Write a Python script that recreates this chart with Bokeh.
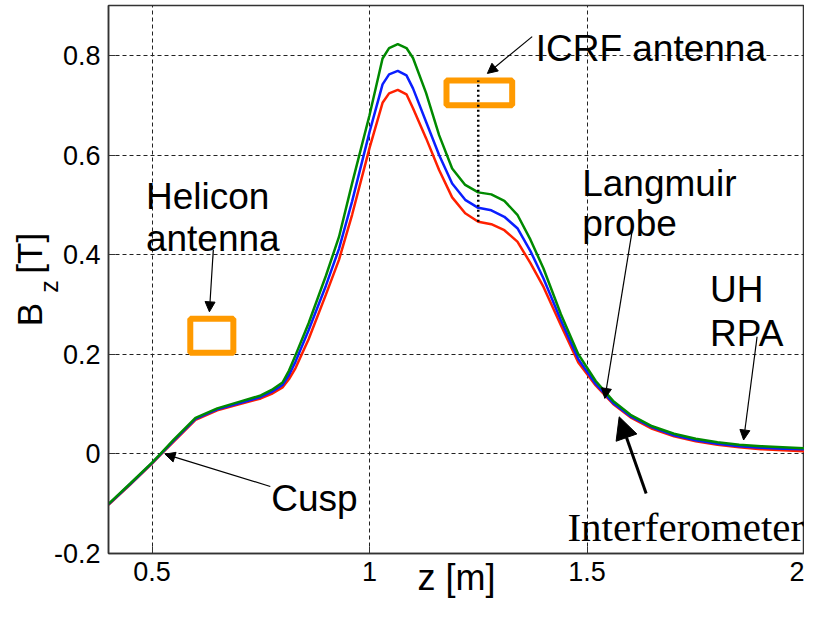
from bokeh.plotting import figure
from bokeh.models import Range1d, FixedTicker, Label, Arrow, NormalHead, Title
from bokeh.embed import file_html
from bokeh.resources import INLINE

# ---------------- data ----------------
z_m = [0.40, 0.45, 0.50, 0.52, 0.55, 0.60, 0.65, 0.70, 0.75, 0.775, 0.80, 0.815, 0.83, 0.86,
       0.90, 0.93, 0.96, 1.00, 1.03, 1.045, 1.065, 1.085, 1.10, 1.13, 1.16, 1.19, 1.22, 1.25,
       1.28, 1.31, 1.34, 1.37, 1.40, 1.44, 1.48, 1.52, 1.56, 1.60, 1.65, 1.70,
       1.75, 1.80, 1.85, 1.90, 1.95, 2.00]

bz_red = [-0.103, -0.062, -0.020, -0.002, 0.024, 0.068, 0.087, 0.099, 0.111, 0.120, 0.133, 0.150, 0.172, 0.230,
          0.320, 0.390, 0.480, 0.614, 0.705, 0.724, 0.731, 0.722, 0.694, 0.634, 0.570, 0.515, 0.483, 0.466,
          0.461, 0.449, 0.426, 0.383, 0.335, 0.258, 0.183, 0.137, 0.100, 0.073, 0.050, 0.035,
          0.025, 0.018, 0.013, 0.009, 0.007, 0.005]

bz_blue = [-0.102, -0.061, -0.019, -0.001, 0.026, 0.070, 0.089, 0.101, 0.114, 0.124, 0.138, 0.158, 0.185, 0.248,
           0.338, 0.412, 0.507, 0.646, 0.742, 0.762, 0.769, 0.760, 0.734, 0.667, 0.600, 0.543, 0.510, 0.494,
           0.489, 0.476, 0.453, 0.407, 0.352, 0.268, 0.190, 0.140, 0.102, 0.075, 0.053, 0.037,
           0.027, 0.020, 0.015, 0.012, 0.010, 0.009]

bz_green = [-0.101, -0.060, -0.018, 0.000, 0.028, 0.072, 0.091, 0.104, 0.117, 0.128, 0.143, 0.167, 0.198, 0.262,
            0.358, 0.436, 0.543, 0.680, 0.794, 0.815, 0.823, 0.815, 0.795, 0.725, 0.640, 0.573, 0.540, 0.525,
            0.521, 0.508, 0.480, 0.430, 0.372, 0.280, 0.200, 0.146, 0.106, 0.078, 0.055, 0.040,
            0.030, 0.023, 0.018, 0.015, 0.013, 0.011]

x_ticks = [0.5, 1.0, 1.5, 2.0]
x_tick_labels = ["0.5", "1", "1.5", "2"]
y_ticks = [-0.2, 0.0, 0.2, 0.4, 0.6, 0.8]
y_tick_labels = ["-0.2", "0", "0.2", "0.4", "0.6", "0.8"]

# antenna boxes (Helicon, ICRF)
box_left = [0.588, 1.177]
box_right = [0.687, 1.328]
box_bottom = [0.203, 0.700]
box_top = [0.271, 0.750]

# ICRF centre marker
icrf_z = [1.25]
icrf_y0 = [0.466]
icrf_y1 = [0.750]

# ---------------- figure ----------------
SANS = "Liberation Sans"
NB = "\u00a0"

p = figure(width=804, height=603, output_backend="svg", toolbar_location=None,
           title_location=None,
           x_range=Range1d(0.4, 2.0), y_range=Range1d(-0.2006, 0.9005),
           min_border_left=108, min_border_right=0, min_border_top=5, min_border_bottom=50,
           background_fill_color="white", border_fill_color="white")
p.outline_line_color = "#333333"
p.outline_line_width = 1.5

xt = FixedTicker(ticks=x_ticks)
yt = FixedTicker(ticks=y_ticks)
p.xaxis.ticker = xt
p.yaxis.ticker = yt
p.xaxis.major_label_overrides = {t: s for t, s in zip(x_ticks, x_tick_labels)}
p.yaxis.major_label_overrides = {t: s for t, s in zip(y_ticks, y_tick_labels)}
for ax in (p.xaxis[0], p.yaxis[0]):
    ax.major_label_text_font = SANS
    ax.major_label_text_font_size = "27px"
    ax.major_label_text_color = "black"
    ax.axis_line_color = "#333333"
    ax.axis_line_width = 1.5
    ax.major_tick_in = 7
    ax.major_tick_out = 0
    ax.major_tick_line_color = "#333333"
    ax.minor_tick_in = 0
    ax.minor_tick_out = 0
    ax.axis_label_text_font = SANS
    ax.axis_label_text_font_style = "normal"
    ax.axis_label_text_color = "black"
p.xaxis.major_label_standoff = 8
p.yaxis.major_label_standoff = 8

# x axis label
p.xaxis.axis_label = "z [m]"
p.xaxis.axis_label_text_font_size = "36px"
p.xaxis.axis_label_standoff = -27

# y axis label: subscript z as the axis label, "B [T]" as a side title
p.yaxis.axis_label = "z" + NB * 2
p.yaxis.axis_label_text_font_size = "25px"
p.yaxis.axis_label_standoff = -12
p.add_layout(Title(text="B" + NB * 3 + "[T]", text_font=SANS, text_font_size="35px",
                   text_font_style="normal", text_color="black", align="center",
                   vertical_align="middle", standoff=-36), "left")

for g in (p.xgrid[0], p.ygrid[0]):
    g.grid_line_color = "#222222"
    g.grid_line_dash = "4 3"
    g.grid_line_width = 1
p.xgrid.ticker = xt
p.ygrid.ticker = yt

# curves
p.line(z_m, bz_red, line_color="#ff2000", line_width=2.5)
p.line(z_m, bz_blue, line_color="#0a1eff", line_width=2.5)
p.line(z_m, bz_green, line_color="#008a00", line_width=2.5)

# antenna boxes
p.quad(left=box_left, right=box_right, bottom=box_bottom, top=box_top,
       fill_alpha=0, line_color="#ff9a00", line_width=6)
p.segment(x0=icrf_z, y0=icrf_y0, x1=icrf_z, y1=icrf_y1,
          line_color="black", line_width=2.5, line_dash="2 3")

# annotation texts
def lab(x, y, t, size="37px", font=SANS):
    p.add_layout(Label(x=x, y=y, text=t, text_font=font, text_font_size=size,
                       text_color="black", text_align="left",
                       text_baseline="alphabetic"))

lab(0.486, 0.517, "Helicon")
lab(0.486, 0.432, "antenna")
lab(1.382, 0.815, "ICRF antenna")
lab(1.489, 0.543, "Langmuir")
lab(1.489, 0.462, "probe")
lab(1.783, 0.330, "UH")
lab(1.783, 0.242, "RPA")
lab(0.774, -0.090, "Cusp")
lab(1.455, -0.147, "Interferometer", size="41px", font="Liberation Serif")

# arrows
def arr(x0, y0, x1, y1, lw=1.2, hs=10):
    p.add_layout(Arrow(x_start=x0, y_start=y0, x_end=x1, y_end=y1,
                       line_color="black", line_width=lw,
                       end=NormalHead(size=hs, fill_color="black", line_color="black",
                                      line_width=1)))

arr(1.374, 0.838, 1.271, 0.764)
arr(0.641, 0.410, 0.632, 0.285)
arr(0.772, -0.066, 0.530, -0.001)
arr(1.6035, 0.446, 1.541, 0.111)
arr(1.891, 0.235, 1.860, 0.0275)
arr(1.636, -0.080, 1.574, 0.074, lw=3, hs=22)

open("out.html", "w").write(file_html(p, INLINE))
